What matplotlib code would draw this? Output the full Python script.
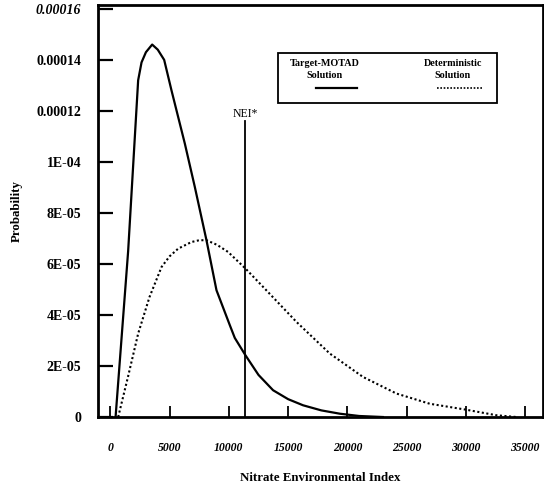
import matplotlib
matplotlib.use('Agg')
import matplotlib.pyplot as plt
from matplotlib.patches import Rectangle

# Target-MOTAD solution (solid)
motad_x = [440, 1500, 2345, 2630, 3000, 3527, 4000, 4540, 5160, 6283, 7126, 8110, 8955,
           10080, 10500, 11400, 12500, 13730, 15000, 16260, 17800, 19360, 21000, 23000]
motad_y = [0, 6.5e-5, 1.32e-4, 1.39e-4, 1.43e-4, 1.46e-4, 1.44e-4, 1.40e-4, 1.28e-4, 1.072e-4,
           9.02e-5, 6.93e-5, 4.97e-5, 3.6e-5, 3.1e-5, 2.42e-5, 1.65e-5, 1.05e-5, 7.0e-6,
           4.6e-6, 2.6e-6, 1.3e-6, 4e-7, 0]

# Deterministic solution (dotted)
det_x = [660, 1500, 2345, 3300, 4318, 5000, 5720, 6845, 7500, 8110, 9000, 9935, 11400,
         12890, 15700, 18510, 21320, 24140, 26950, 29980, 32570, 34260]
det_y = [0, 1.6e-5, 3.27e-5, 4.7e-5, 5.88e-5, 6.3e-5, 6.6e-5, 6.86e-5, 6.93e-5, 6.93e-5,
         6.75e-5, 6.47e-5, 5.82e-5, 5.1e-5, 3.73e-5, 2.49e-5, 1.57e-5, 9.2e-6, 5.2e-6,
         2.9e-6, 7e-7, 0]

nei_x = 11400
nei_top = 1.16e-4

xticks = [0, 5000, 10000, 15000, 20000, 25000, 30000, 35000]
yticks = [0, 2e-5, 4e-5, 6e-5, 8e-5, 1e-4, 1.2e-4, 1.4e-4, 1.6e-4]
ylabels = ['0', '2E-05', '4E-05', '6E-05', '8E-05', '1E-04', '0.00012', '0.00014', '0.00016']

plt.rcParams['font.family'] = ['Liberation Serif', 'DejaVu Serif']

fig = plt.figure(figsize=(5.44, 4.87), dpi=100)
ax = fig.add_axes([0.18, 0.1437, 0.818, 0.846])

ax.plot(motad_x, motad_y, color='black', lw=1.6)
ax.plot(det_x, det_y, color='black', lw=1.5, linestyle=(0, (1, 1.2)))
ax.plot([nei_x, nei_x], [0, nei_top], color='black', lw=1.3)
ax.text(nei_x, nei_top + 0.5e-6, 'NEI*', ha='center', va='bottom', fontsize=8.5)

ax.set_xlim(-1050, 36500)
ax.set_ylim(0, 1.615e-4)
ax.set_xticks(xticks)
ax.set_xticklabels([str(t) for t in xticks], fontweight='bold', fontstyle='italic', fontsize=8.5)
ax.set_yticks(yticks)
ax.set_yticklabels(ylabels, fontweight='bold', fontsize=10)
ax.get_yticklabels()[-1].set_fontstyle('italic')

ax.tick_params(axis='y', direction='in', length=11, width=1.6, pad=12)
ax.tick_params(axis='x', direction='in', length=8, width=1.3, pad=18)
for s in ax.spines.values():
    s.set_linewidth(2)

ax.set_xlabel('Nitrate Environmental Index', fontweight='bold', fontsize=9.3, labelpad=13)
ax.set_ylabel('Probability', fontweight='bold', fontsize=9.3, labelpad=9)

# legend box
ax.add_patch(Rectangle((0.4045, 0.762), 0.492, 0.1215, transform=ax.transAxes,
                       fill=False, lw=1.3, color='black'))
ax.text(0.51, 0.859, 'Target-MOTAD', transform=ax.transAxes, ha='center', va='center',
        fontsize=7.3, fontweight='bold')
ax.text(0.51, 0.83, 'Solution', transform=ax.transAxes, ha='center', va='center',
        fontsize=7.3, fontweight='bold')
ax.plot([0.49, 0.582], [0.7985, 0.7985], transform=ax.transAxes, color='black', lw=1.6)
ax.text(0.798, 0.859, 'Deterministic', transform=ax.transAxes, ha='center', va='center',
        fontsize=7.3, fontweight='bold')
ax.text(0.798, 0.83, 'Solution', transform=ax.transAxes, ha='center', va='center',
        fontsize=7.3, fontweight='bold')
ax.plot([0.762, 0.865], [0.7985, 0.7985], transform=ax.transAxes, color='black', lw=1.2,
        linestyle=(0, (1, 1)))

fig.savefig('out.png', dpi=100)
